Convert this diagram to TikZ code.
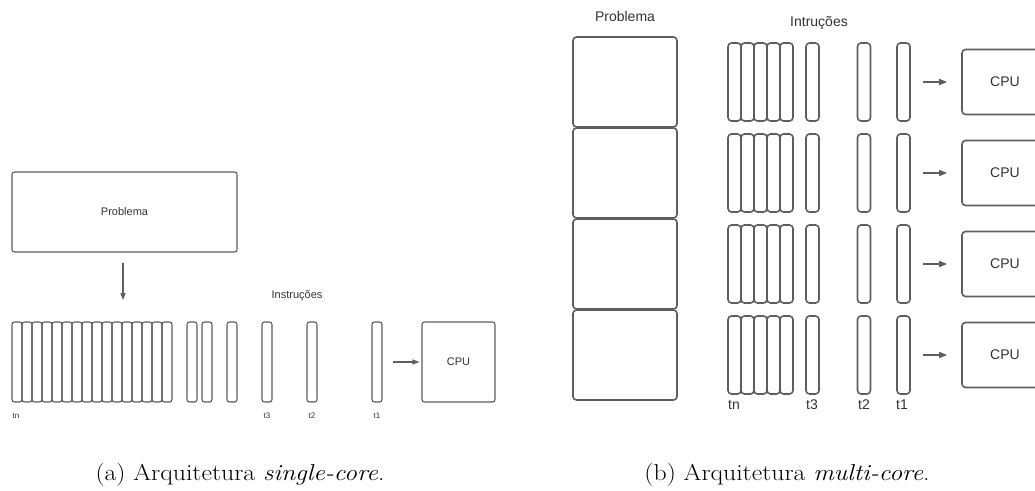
\documentclass[tikz,border=0pt]{standalone}
\usepackage{fontspec}
\newfontfamily\diagfont{Liberation Sans}
\usetikzlibrary{arrows.meta}
\definecolor{edge}{HTML}{5E5E5E}
\definecolor{ink}{HTML}{333333}
\begin{document}
\begin{tikzpicture}[x=1pt,y=-1pt,
  thinbox/.style={draw=edge,line width=1.1pt,rounded corners=2.5pt,inner sep=0pt},
  thickbox/.style={draw=edge,line width=1.6pt,rounded corners=3.5pt,inner sep=0pt},
  lbar/.style={thinbox,minimum width=10pt,minimum height=80pt},
  rbar/.style={thickbox,minimum width=13pt,minimum height=78pt},
  smalltxt/.style={font=\diagfont\fontsize{11}{13}\selectfont,text=ink},
  tinytxt/.style={font=\diagfont\fontsize{8}{10}\selectfont,text=ink},
  bigtxt/.style={font=\diagfont\fontsize{14}{16}\selectfont,text=ink},
  feed/.style={draw=edge,line width=1.1pt,-{Triangle[length=7pt,width=5pt]}},
  feedr/.style={draw=edge,line width=1.4pt,-{Triangle[length=8pt,width=6pt]}},
  captxt/.style={font=\fontsize{23}{27}\selectfont,anchor=base}]
\clip (0,0) rectangle (1035,490);
\useasboundingbox (0,0) rectangle (1035,490);

% ---------- single-core ----------
\node[thinbox,minimum width=225pt,minimum height=80pt,smalltxt] (prob) at (124.5,212) {Problema};
\foreach \i in {1,...,16} {
  \node[lbar] (lb\i) at ({7+10*\i},362) {};
}
\node[lbar] (lb17) at (192,362) {};
\node[lbar] (lb18) at (207,362) {};
\node[lbar] (lb19) at (232,362) {};
\node[lbar] (lt3) at (267,362) {};
\node[lbar] (lt2) at (312,362) {};
\node[lbar] (lt1) at (377,362) {};
\node[thinbox,minimum width=73pt,minimum height=80pt,smalltxt] (cpu) at (458.5,362) {CPU};
\coordinate (drop) at (123,322);
\draw[feed,shorten <=10pt,shorten >=22pt] (prob.south -| drop) -- (drop);
\draw[feed,shorten <=10pt,shorten >=2pt] (lt1) -- (cpu);
\node[smalltxt] (instr) at (297,296) {Instruções};
\node[tinytxt] (ltn) at (16,416) {tn};
\node[tinytxt] (lt3l) at (267,416) {t3};
\node[tinytxt] (lt2l) at (312,416) {t2};
\node[tinytxt] (lt1l) at (377,416) {t1};

% ---------- multi-core ----------
\node[bigtxt] (rprob) at (625,16) {Problema};
\node[bigtxt] (rinstr) at (819,23) {Intruções};
\foreach \r in {0,...,3} {
  \pgfmathsetmacro{\yc}{82+91*\r}
  \node[thickbox,minimum width=104pt,minimum height=90pt] (part\r) at (625,\yc) {};
  \foreach \i in {0,...,4} {
    \node[rbar] (rb\r-\i) at ({734.5+13*\i},\yc) {};
  }
  \node[rbar] (rt3-\r) at (812.5,\yc) {};
  \node[rbar] (rt2-\r) at (864,\yc) {};
  \node[rbar] (rt1-\r) at (903.5,\yc) {};
  \node[thickbox,minimum width=86pt,minimum height=65pt,bigtxt] (rcpu\r) at (1005,\yc) {CPU};
  \draw[feedr,shorten <=12pt,shorten >=14pt] (rt1-\r) -- (rcpu\r.west);
}
\node[bigtxt] (rtn) at (734,405) {tn};
\node[bigtxt] (rt3l) at (812,405) {t3};
\node[bigtxt] (rt2l) at (864,405) {t2};
\node[bigtxt] (rt1l) at (902,405) {t1};

% ---------- captions ----------
\node[captxt] (capa) at (240,480) {\scalebox{1.12}[1]{(a) Arquitetura \textit{single-core}.}};
\node[captxt] (capb) at (787,480) {\scalebox{1.12}[1]{(b) Arquitetura \textit{multi-core}.}};
\end{tikzpicture}
\end{document}
